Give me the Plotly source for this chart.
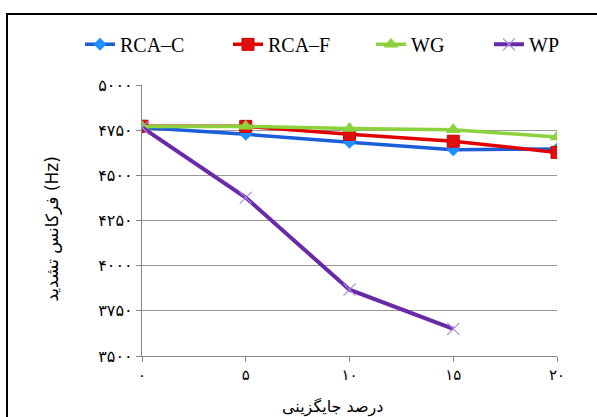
import plotly.graph_objects as go

x_vals = [0, 5, 10, 15, 20]
x_ticklabels = ["۰", "۵", "۱۰", "۱۵", "۲۰"]
y_tickvals = [3500, 3750, 4000, 4250, 4500, 4750, 5000]
y_ticklabels = ["۳۵۰۰", "۳۷۵۰", "۴۰۰۰", "۴۲۵۰", "۴۵۰۰", "۴۷۵۰", "۵۰۰۰"]

rca_c = [4765, 4727, 4683, 4642, 4646]
rca_f = [4772, 4771, 4727, 4689, 4627]
wg = [4770, 4771, 4759, 4752, 4712]
wp_x = [0, 5, 10, 15]
wp = [4765, 4377, 3867, 3650]

fig = go.Figure()
fig.add_trace(go.Scatter(x=x_vals, y=rca_c, name="RCA–C", mode="lines+markers", legend="legend",
                         line=dict(color="#1a5fd8", width=3.5),
                         marker=dict(symbol="diamond", size=10, color="#1e90ff",
                                     line=dict(color="#1e90ff", width=0))))
fig.add_trace(go.Scatter(x=x_vals, y=rca_f, name="RCA–F", mode="lines+markers", legend="legend2",
                         line=dict(color="#e00000", width=3.5),
                         marker=dict(symbol="square", size=12, color="#e01010",
                                     line=dict(color="#d00000", width=1))))
fig.add_trace(go.Scatter(x=x_vals, y=wg, name="WG", mode="lines+markers", legend="legend3",
                         line=dict(color="#8cd23c", width=3.5),
                         marker=dict(symbol="triangle-up", size=13, color="#8cd23c")))
fig.add_trace(go.Scatter(x=wp_x, y=wp, name="WP", mode="lines+markers", legend="legend4",
                         line=dict(color="#6a2aa8", width=4),
                         marker=dict(symbol="x-thin", size=12,
                                     line=dict(color="#a888e0", width=1.2))))

leg_font = dict(family="Liberation Serif, Times New Roman, serif", size=20, color="black")
text_starts = [125, 273, 416, 534]

def leg(px):
    return dict(orientation="h", x=(px - 45 - 142) / 415, xanchor="left", y=1.15, yanchor="middle",
                bgcolor="rgba(0,0,0,0)", font=leg_font)

fig.update_layout(
    width=597, height=417,
    margin=dict(l=142, r=40, t=85, b=61, autoexpand=False),
    paper_bgcolor="white", plot_bgcolor="white",
    showlegend=True,
    legend=leg(text_starts[0]),
    legend2=leg(text_starts[1]),
    legend3=leg(text_starts[2]),
    legend4=leg(text_starts[3]),
    font=dict(family="DejaVu Sans", color="black"),
)
fig.update_xaxes(range=[0, 20], tickvals=x_vals, ticktext=x_ticklabels,
                 showline=True, linecolor="#888888", linewidth=1.3,
                 ticks="outside", ticklen=5, tickcolor="#888888",
                 showgrid=False, zeroline=False,
                 tickfont=dict(family="DejaVu Sans", size=15, color="black"))
fig.update_yaxes(range=[3500, 5000], tickvals=y_tickvals, ticktext=y_ticklabels,
                 showline=True, linecolor="#888888", linewidth=1.3,
                 ticks="outside", ticklen=5, tickcolor="#888888",
                 showgrid=True, gridcolor="#999999", gridwidth=1, zeroline=False,
                 tickfont=dict(family="DejaVu Sans", size=16, color="black"))

fig.add_annotation(text="درصد جایگزینی", xref="paper", yref="paper",
                   x=0.458, y=-0.19, xanchor="center", yanchor="middle", showarrow=False,
                   font=dict(family="DejaVu Sans", size=16, color="black"))
fig.add_annotation(text="فرکانس تشدید (Hz)", xref="paper", yref="paper",
                   x=-0.217, y=0.47, xanchor="center", yanchor="middle", showarrow=False,
                   textangle=-90,
                   font=dict(family="DejaVu Sans", size=17, color="black"))

fig.add_shape(type="rect", xref="paper", yref="paper",
              x0=-0.3253, x1=1.11, y0=-0.25, y1=1.262,
              line=dict(color="black", width=2), fillcolor="rgba(0,0,0,0)", layer="below")

fig.write_html("out.html")
